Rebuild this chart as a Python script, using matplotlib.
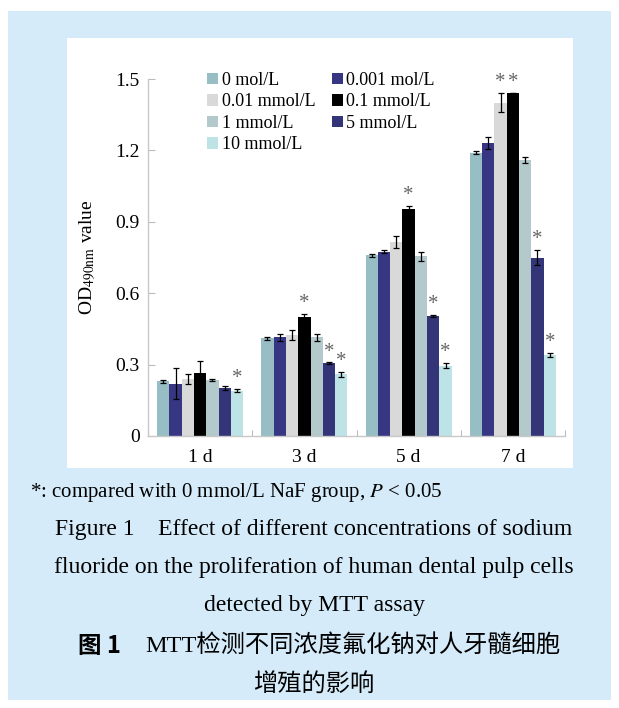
import numpy as np
import matplotlib
matplotlib.use("Agg")
import matplotlib.pyplot as plt
from matplotlib.patches import Rectangle

plt.rcParams['font.family'] = ['Liberation Serif', 'Noto Sans CJK SC']
plt.rcParams['mathtext.fontset'] = 'stix'

# data
groups = ["1 d", "3 d", "5 d", "7 d"]
labels = ["0 mol/L", "0.001 mol/L", "0.01 mmol/L", "0.1 mmol/L", "1 mmol/L", "5 mmol/L", "10 mmol/L"]
colors = ["#97bec4", "#363682", "#d9d9d9", "#000000", "#b4c9cc", "#343478", "#bde3e6"]

c0 = [0.23, 0.41, 0.76, 1.19]
c0001 = [0.22, 0.415, 0.775, 1.23]
c001 = [0.24, 0.425, 0.815, 1.40]
c01 = [0.265, 0.50, 0.955, 1.44]
c1 = [0.235, 0.415, 0.755, 1.16]
c5 = [0.20, 0.305, 0.505, 0.75]
c10 = [0.19, 0.26, 0.295, 0.34]

e0 = [0.007, 0.008, 0.006, 0.006]
e0001 = [0.065, 0.015, 0.006, 0.025]
e001 = [0.02, 0.02, 0.025, 0.04]
e01 = [0.05, 0.012, 0.012, 0.0]
e1 = [0.006, 0.015, 0.02, 0.012]
e5 = [0.008, 0.004, 0.004, 0.03]
e10 = [0.006, 0.01, 0.01, 0.01]

# which bars carry a star (significant vs 0 mmol/L)
star01 = [False, True, True, True]
star001 = [False, False, False, True]
star5 = [False, True, True, True]
star10 = [True, True, True, True]

values = [c0, c0001, c001, c01, c1, c5, c10]
errors = [e0, e0001, e001, e01, e1, e5, e10]
stars = [[False] * 4, [False] * 4, star001, star01, [False] * 4, star5, star10]

fig = plt.figure(figsize=(6.19, 7.08), dpi=100)
fig.patch.set_facecolor("white")
W, H = 619, 708
# blue page background + white chart panel
fig.patches.append(Rectangle((8 / W, 1 - 700 / H), 603 / W, 689 / H, transform=fig.transFigure,
                             facecolor="#d5ebf9", edgecolor="none", zorder=-10))
fig.patches.append(Rectangle((67 / W, 1 - 468 / H), 506 / W, 430 / H, transform=fig.transFigure,
                             facecolor="white", edgecolor="none", zorder=-9))

ax = fig.add_axes([148 / W, 1 - 436 / H, 417 / W, 357 / H])
ax.set_facecolor("none")
ax.set_zorder(5)

x = np.arange(len(groups)) + 0.5
bw = 0.118
handles = []
for i in range(7):
    pos = x + (i - 3) * bw
    b = ax.bar(pos, values[i], bw, color=colors[i], label=labels[i], zorder=2)
    handles.append(b)
    ax.errorbar(pos, values[i], yerr=errors[i], fmt="none", ecolor="black",
                elinewidth=0.9, capsize=2.2, capthick=0.9, zorder=3)
    for j in range(4):
        if stars[i][j]:
            ax.text(pos[j], values[i][j] + errors[i][j] + 0.004, "*", ha="center", va="bottom",
                    fontsize=15, color="#666666", zorder=4)

ax.set_xlim(0, 4)
ax.set_ylim(0, 1.5)
ax.set_yticks([0, 0.3, 0.6, 0.9, 1.2, 1.5])
ax.set_yticklabels(["0", "0.3", "0.6", "0.9", "1.2", "1.5"])
ax.set_xticks([0, 1, 2, 3, 4])
ax.set_xticklabels([])
ax.set_xticks(x, minor=True)
ax.set_xticklabels(groups, minor=True)
ax.tick_params(axis="x", which="major", direction="in", length=4, color="#bbbbbb")
ax.tick_params(axis="x", which="minor", length=0, labelsize=14, pad=9)
ax.tick_params(axis="y", direction="in", length=5, color="#bbbbbb", labelsize=14, pad=6)
for s in ["top", "right"]:
    ax.spines[s].set_visible(False)
for s in ["left", "bottom"]:
    ax.spines[s].set_color("#c8c8c8")
    ax.spines[s].set_linewidth(1.0)

ax.set_ylabel("OD$_{490\\mathrm{nm}}$ value", fontsize=14, labelpad=12)

order = [0, 2, 4, 6, 1, 3, 5]
ax.legend([handles[k] for k in order], [labels[k] for k in order], ncol=2, frameon=False,
          loc="upper left", bbox_to_anchor=(0.125, 1.04), fontsize=13,
          handlelength=0.6, handleheight=0.6, handletextpad=0.2, columnspacing=0.9,
          labelspacing=0.25, borderaxespad=0)

# captions
fig.text(30 / W, 1 - 493 / H, "*: compared with 0 mmol/L NaF group, $P$ < 0.05", fontsize=15,
         ha="left", va="center")
fig.text(314 / W, 1 - 530 / H, "Figure 1    Effect of different concentrations of sodium", fontsize=17,
         ha="center", va="center")
fig.text(314 / W, 1 - 568 / H, "fluoride on the proliferation of human dental pulp cells", fontsize=17,
         ha="center", va="center")
fig.text(314 / W, 1 - 606 / H, "detected by MTT assay", fontsize=17, ha="center", va="center")
fig.text(78 / W, 1 - 646 / H, "图 1", fontsize=17, fontweight="bold", ha="left", va="center",
         family=["Noto Sans CJK SC"])
fig.text(145 / W, 1 - 646 / H, "MTT检测不同浓度氟化钠对人牙髓细胞", fontsize=17.5, ha="left",
         va="center", family=["Liberation Serif", "Noto Sans CJK SC"])
fig.text(314 / W, 1 - 685 / H, "增殖的影响", fontsize=17.5, ha="center", va="center",
         family=["Noto Sans CJK SC"])

fig.savefig("out.png", dpi=100)
